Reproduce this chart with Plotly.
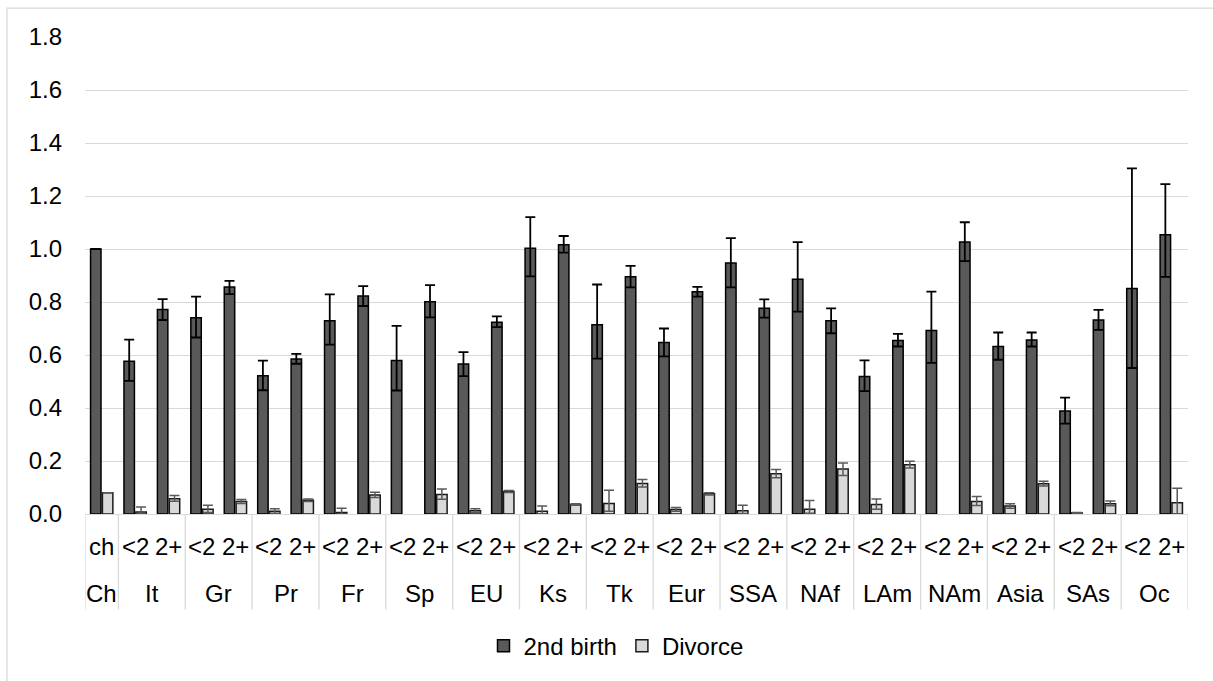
import plotly.graph_objects as go

regions = ["It", "Gr", "Pr", "Fr", "Sp", "EU", "Ks", "Tk", "Eur", "SSA", "NAf",
           "LAm", "NAm", "Asia", "SAs", "Oc"]
sub_labels = ["<2", "2+"]

groups = ["Ch"] + [r for r in regions for _ in sub_labels]
subs = ["ch"] + [s for _ in regions for s in sub_labels]

birth = [1.0, 0.576, 0.772, 0.741, 0.857, 0.522, 0.585, 0.729, 0.823, 0.579, 0.801,
         0.566, 0.724, 1.003, 1.016, 0.714, 0.895, 0.647, 0.839, 0.947, 0.776,
         0.886, 0.729, 0.519, 0.655, 0.692, 1.026, 0.632, 0.657, 0.389, 0.732,
         0.851, 1.054]
birth_plus = [None, 0.082, 0.039, 0.079, 0.023, 0.057, 0.019, 0.100, 0.037, 0.131, 0.063,
              0.045, 0.022, 0.117, 0.033, 0.152, 0.041, 0.053, 0.018, 0.094, 0.034,
              0.140, 0.047, 0.061, 0.025, 0.147, 0.075, 0.053, 0.028, 0.050, 0.038,
              0.453, 0.191]
birth_minus = [None, 0.074, 0.040, 0.075, 0.027, 0.055, 0.018, 0.090, 0.038, 0.113, 0.059,
               0.046, 0.019, 0.106, 0.030, 0.128, 0.040, 0.052, 0.019, 0.092, 0.035,
               0.122, 0.047, 0.055, 0.023, 0.122, 0.072, 0.050, 0.025, 0.048, 0.037,
               0.300, 0.159]

divorce = [0.080, 0.008, 0.058, 0.018, 0.047, 0.010, 0.052, 0.006, 0.072, None, 0.074,
           0.012, 0.085, 0.010, 0.036, 0.040, 0.115, 0.017, 0.076, 0.012, 0.152,
           0.018, 0.170, 0.036, 0.186, None, 0.047, 0.030, 0.114, 0.004, 0.039,
           None, 0.042]
div_plus = [None, 0.018, 0.012, 0.015, 0.008, 0.010, 0.005, 0.016, 0.010, None, 0.020,
            0.008, 0.004, 0.020, 0.003, 0.050, 0.015, 0.008, 0.004, 0.021, 0.016,
            0.033, 0.022, 0.021, 0.013, None, 0.019, 0.009, 0.010, 0.002, 0.010,
            None, 0.055]
div_minus = [None, 0.008, 0.010, 0.012, 0.007, 0.007, 0.005, 0.006, 0.010, None, 0.018,
             0.006, 0.004, 0.010, 0.003, 0.030, 0.013, 0.007, 0.004, 0.010, 0.015,
             0.015, 0.025, 0.018, 0.012, None, 0.015, 0.008, 0.008, 0.002, 0.008,
             None, 0.042]

y_ticks = [0.0, 0.2, 0.4, 0.6, 0.8, 1.0, 1.2, 1.4, 1.6, 1.8]

FONT = "Liberation Sans, Arial, sans-serif"
FS = 24
GRID = "#d9d9d9"

# unique category keys (group|sub) in chart order
keys = [f"{g}|{s}" for g, s in zip(groups, subs)]

fig = go.Figure()
fig.add_trace(go.Bar(
    x=keys, y=birth, name="2nd birth",
    marker=dict(color="#595959", line=dict(color="#000000", width=1.5)),
    error_y=dict(type="data", symmetric=False, array=birth_plus, arrayminus=birth_minus,
                 color="#000000", thickness=1.8, width=5),
))
fig.add_trace(go.Bar(
    x=keys, y=divorce, name="Divorce",
    marker=dict(color="#d9d9d9", line=dict(color="#1a1a1a", width=1.5)),
    error_y=dict(type="data", symmetric=False, array=div_plus, arrayminus=div_minus,
                 color="#595959", thickness=1.5, width=5),
))

L, R, T, B = 85, 25, 37, 164
W, H = 1213, 681
pw, ph = W - L - R, H - T - B
base = T + ph


def py(pix):
    """pixel row -> paper y"""
    return (base - pix) / ph


def px(pix):
    return (pix - L) / pw


annotations = []
# sub-category labels
for i, s in enumerate(subs):
    annotations.append(dict(x=i, xref="x", y=py(550), yref="paper", text=s,
                            showarrow=False, xanchor="center", yanchor="middle",
                            font=dict(family=FONT, size=FS, color="#000000")))
# group labels + divider positions
shapes = []
bounds = []
start = 0
for i in range(1, len(groups) + 1):
    if i == len(groups) or groups[i] != groups[start]:
        annotations.append(dict(x=(start + i - 1) / 2, xref="x", y=py(597), yref="paper",
                                text=groups[start], showarrow=False,
                                xanchor="center", yanchor="middle",
                                font=dict(family=FONT, size=FS, color="#000000")))
        bounds.append(start - 0.5)
        start = i
bounds.append(len(groups) - 0.5)
for b in bounds:
    shapes.append(dict(type="line", xref="x", yref="paper", x0=b, x1=b,
                       y0=0, y1=py(613), line=dict(color=GRID, width=1.3)))

# chart-area border
shapes.append(dict(type="rect", xref="paper", yref="paper",
                   x0=px(7), x1=px(W + 10), y0=py(H + 10), y1=py(8),
                   line=dict(color=GRID, width=1.3), fillcolor="rgba(0,0,0,0)",
                   layer="below"))

fig.update_layout(
    width=W, height=H,
    margin=dict(l=L, r=R, t=T, b=B),
    paper_bgcolor="white", plot_bgcolor="white",
    font=dict(family=FONT, size=FS, color="#000000"),
    barmode="group", bargap=0.29, bargroupgap=0.12,
    showlegend=True,
    legend=dict(orientation="h", x=px(616), xanchor="center",
                y=py(650), yanchor="middle",
                font=dict(family=FONT, size=FS), itemwidth=30,
                traceorder="normal"),
    xaxis=dict(type="category", categoryorder="array", categoryarray=keys,
               showticklabels=False, ticks="", showline=True, linecolor=GRID,
               linewidth=1.3, showgrid=False, range=[-0.5, len(keys) - 0.5]),
    yaxis=dict(range=[0, 1.8], tickvals=y_ticks, ticktext=[f"{v:.1f}" for v in y_ticks],
               showgrid=True, gridcolor=GRID, gridwidth=1.3, zeroline=False,
               showline=False, ticks="", ticklabelstandoff=22,
               tickfont=dict(family=FONT, size=FS)),
    annotations=annotations,
    shapes=shapes,
)

fig.write_html("out.html")
